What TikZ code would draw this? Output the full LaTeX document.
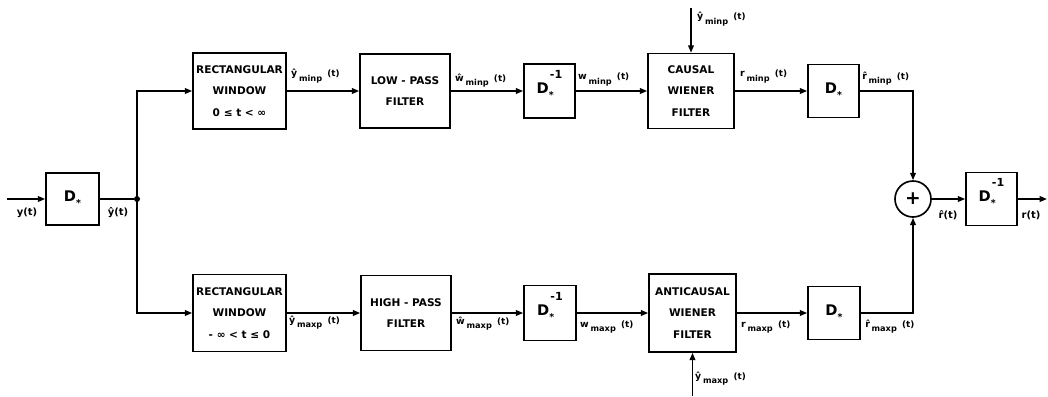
\documentclass[tikz,border=0pt]{standalone}
\usepackage{fontspec}
\setmainfont{DejaVu Sans}
\usetikzlibrary{arrows.meta}
\newcommand{\Dstar}{{\fontsize{12.5}{12.5}\selectfont D\raisebox{-4.5pt}{\fontsize{8}{8}\selectfont *}}}
\newcommand{\Dinv}{{\fontsize{12.5}{12.5}\selectfont D\rlap{\raisebox{-4.5pt}{\fontsize{8}{8}\selectfont *}}\hspace{1pt}\raisebox{13pt}[0pt][0pt]{\fontsize{9.5}{9.5}\selectfont -1}}}
\newcommand{\sig}[2]{{\fontsize{8}{8}\selectfont #1}\hspace{1.5pt}\raisebox{-4pt}{\fontsize{7}{7}\selectfont #2}\hspace{4.5pt}{\fontsize{7.5}{7.5}\selectfont (t)}}
\begin{document}
\begin{tikzpicture}[x=0.03cm,y=-0.03cm,
  bsz/.style 2 args={minimum width=#1*0.03cm, minimum height=#2*0.03cm},
  blk/.style={draw, line width=1.4pt, inner sep=0pt, align=center,
    font=\bfseries\fontsize{9}{18.5}\selectfont},
  ln/.style={line width=1.4pt},
  arr/.style={line width=1.4pt, -{Triangle[length=0.22cm,width=0.17cm]}},
  lab/.style={inner sep=0pt, anchor=base west, font=\bfseries},
  clab/.style={inner sep=0pt, font=\bfseries\fontsize{8.5}{8.5}\selectfont},
  jdot/.style={circle, fill, inner sep=0pt, minimum size=0.18cm}
]
\useasboundingbox (0,0) rectangle (1048,396);
% blocks
\node[blk, bsz={53}{52}] (d1) at (72.5,199) {\Dstar};
\node[jdot] (j) at (137,199) {};
\node[blk, bsz={93}{76}] (rw1) at (239.5,91) {RECTANGULAR\\WINDOW\\0 ≤ t < ∞};
\node[blk, bsz={93}{77}] (rw2) at (239.5,313) {RECTANGULAR\\WINDOW\\- ∞ < t ≤ 0};
\node[blk, bsz={90}{74}] (lp) at (405,91) {LOW - PASS\\FILTER};
\node[blk, bsz={90}{75}] (hp) at (406,313) {HIGH - PASS\\FILTER};
\node[blk, bsz={51}{54}] (di1) at (549.5,91) {\Dinv};
\node[blk, bsz={52}{55}] (di2) at (550,313) {\Dinv};
\node[blk, bsz={86}{75}] (cw) at (691,91) {CAUSAL\\WIENER\\FILTER};
\node[blk, bsz={87}{78}] (aw) at (692.5,313) {ANTICAUSAL\\WIENER\\FILTER};
\node[blk, bsz={51}{53}] (d2) at (833.5,91) {\Dstar};
\node[blk, bsz={52}{53}] (d3) at (834,313) {\Dstar};
\node[draw, circle, line width=1.4pt, minimum size=1.08cm, inner sep=0pt,
  font=\bfseries\fontsize{16}{16}\selectfont] (s) at (913,199) {+};
\node[blk, bsz={51}{53}] (di3) at (991.5,199) {\Dinv};
% free ends
\coordinate (in) at (7,199);
\coordinate (out) at (1047,199);
\coordinate (yt) at (691,8);
\coordinate (yb) at (692.5,396);
% connectors
\draw[arr] (in) -- (d1);
\draw[ln] (d1) -- (j);
\draw[arr] (j.center) |- (rw1.west);
\draw[arr] (j.center) |- (rw2.west);
\draw[arr] (rw1) -- (lp);
\draw[arr] (lp) -- (di1);
\draw[arr] (di1) -- (cw);
\draw[arr] (cw) -- (d2);
\draw[arr] (rw2) -- (hp);
\draw[arr] (hp) -- (di2);
\draw[arr] (di2) -- (aw);
\draw[arr] (aw) -- (d3);
\draw[arr] (yt) -- (cw);
\draw[arr] (yb) -- (aw);
\draw[arr] (d2.east) -| (s.north);
\draw[arr] (d3.east) -| (s.south);
\draw[arr] (s) -- (di3);
\draw[arr] (di3) -- (out);
% labels
\node[clab] (l1) at (27,213) {y(t)};
\node[clab] (l2) at (118,213) {\^y(t)};
\node[clab] (l3) at (948,215) {\^r(t)};
\node[clab] (l4) at (1031,215) {r(t)};
\node[lab] (t1) at (291,77) {\sig{\^y}{minp}};
\node[lab] (t2) at (455,81) {\sig{\^w}{minp}};
\node[lab] (t3) at (578,80) {\sig{w}{minp}};
\node[lab] (t4) at (740,77) {\sig{r}{minp}};
\node[lab] (t5) at (862,79) {\sig{\^r}{minp}};
\node[lab] (t6) at (697,20) {\sig{\^y}{minp}};
\node[lab] (b1) at (289,323) {\sig{\^y}{maxp}};
\node[lab] (b2) at (456,324) {\sig{\^w}{maxp}};
\node[lab] (b3) at (580,327) {\sig{w}{maxp}};
\node[lab] (b4) at (741,327) {\sig{r}{maxp}};
\node[lab] (b5) at (865,327) {\sig{\^r}{maxp}};
\node[lab] (b6) at (695,379) {\sig{\^y}{maxp}};
\end{tikzpicture}
\end{document}
